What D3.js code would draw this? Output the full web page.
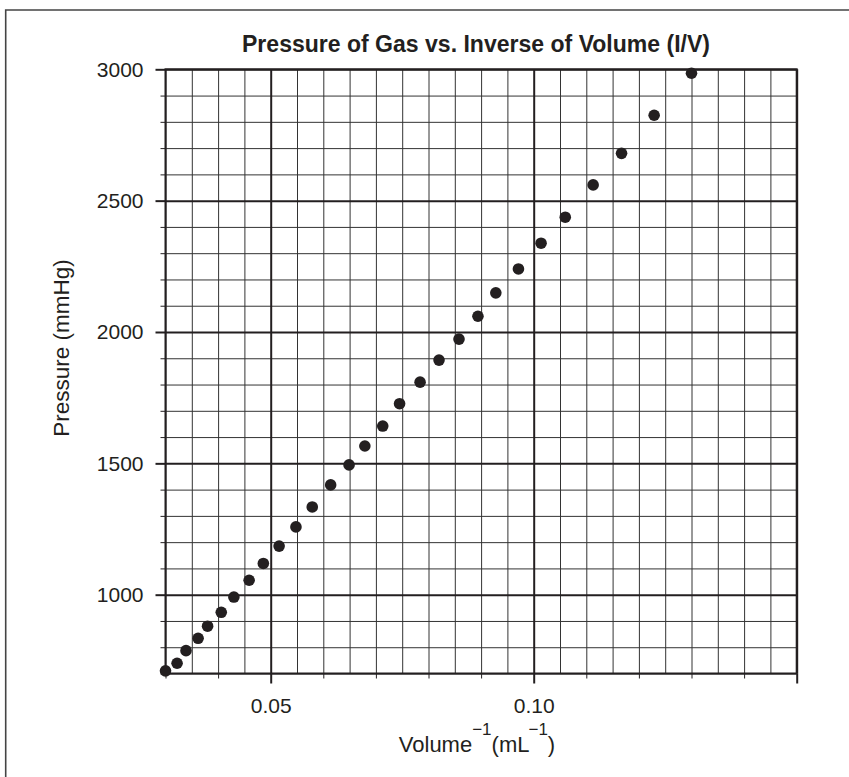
<!DOCTYPE html>
<html><head><meta charset="utf-8">
<script src="https://cdn.jsdelivr.net/npm/d3@7"></script>
<style>body{margin:0;background:#fff} svg{display:block}</style>
</head><body><svg id="chart" width="849" height="777"></svg>
<script>
// ---- data ----
const invVolume = [0.0300,0.0322,0.0339,0.0362,0.0380,0.0406,0.0430,0.0459,0.0486,0.0516,0.0548,0.0579,0.0614,0.0649,0.0679,0.0713,0.0745,0.0784,0.0820,0.0858,0.0894,0.0928,0.0971,0.1014,0.1060,0.1113,0.1167,0.1229,0.1300];
const pressure  = [710,739,787,834,880,933,991,1055,1119,1185,1258,1334,1418,1494,1566,1642,1727,1809,1893,1973,2060,2149,2240,2338,2437,2560,2680,2825,2985];
const xLabelTicks = [0.05, 0.10];
const yLabelTicks = [1000, 1500, 2000, 2500, 3000];
const xDomain = [0.03, 0.15];
const yDomain = [700, 3000];
const titleText = "Pressure of Gas vs. Inverse of Volume (I/V)";
const yAxisTitle = "Pressure (mmHg)";

// ---- layout ----
const svg = d3.select("#chart");
const L = 165.5, R = 796.7, T = 69.3, B = 673.5;
const ink = "#231f20";
const font = "'Liberation Sans', Arial, Helvetica, sans-serif";

const x = d3.scaleLinear().domain(xDomain).range([L, R]);
const y = d3.scaleLinear().domain(yDomain).range([B, T]);

const r6 = v => Math.round(v * 1e6) / 1e6;
const xMinor = d3.range(0, 25).map(i => r6(xDomain[0] + i * 0.005));
const xTick01 = d3.range(0, 13).map(i => r6(xDomain[0] + i * 0.01));
const yMinor = d3.range(yDomain[0], yDomain[1] + 1, 100);
const isMajX = v => Math.abs(Math.round(v / 0.05) * 0.05 - v) < 1e-9;
const isMajY = v => v % 500 === 0;

// outer frame (left & top edges)
svg.append("path").attr("d", "M5.7,777 V10 H849")
  .attr("fill", "none").attr("stroke", "#444").attr("stroke-width", 1.6);

// minor grid
const gx = svg.append("g").attr("transform", `translate(0,${B})`)
  .call(d3.axisBottom(x).tickValues(xMinor.filter(v => !isMajX(v))).tickSize(-(B - T)).tickFormat(""));
const gy = svg.append("g").attr("transform", `translate(${L},0)`)
  .call(d3.axisLeft(y).tickValues(yMinor.filter(v => !isMajY(v))).tickSize(-(R - L)).tickFormat(""));
[gx, gy].forEach(g => { g.select(".domain").remove(); g.selectAll("line").attr("stroke", "#333").attr("stroke-width", 1); });

// major grid
const gxM = svg.append("g").attr("transform", `translate(0,${B})`)
  .call(d3.axisBottom(x).tickValues(xMinor.filter(isMajX)).tickSize(-(B - T)).tickFormat(""));
const gyM = svg.append("g").attr("transform", `translate(${L},0)`)
  .call(d3.axisLeft(y).tickValues(yMinor.filter(isMajY)).tickSize(-(R - L)).tickFormat(""));
[gxM, gyM].forEach(g => { g.select(".domain").remove(); g.selectAll("line").attr("stroke", ink).attr("stroke-width", 2); });

// outside ticks: short minor
const tx = svg.append("g").attr("transform", `translate(0,${B})`)
  .call(d3.axisBottom(x).tickValues(xTick01.filter(v => !isMajX(v))).tickSize(5).tickFormat(""));
const ty = svg.append("g").attr("transform", `translate(${L},0)`)
  .call(d3.axisLeft(y).tickValues(yMinor.filter(v => !isMajY(v))).tickSize(5).tickFormat(""));
[tx, ty].forEach(g => { g.select(".domain").remove(); g.selectAll("line").attr("stroke", ink).attr("stroke-width", 1); });

// outside ticks: long major with labels
const txM = svg.append("g").attr("transform", `translate(0,${B})`)
  .call(d3.axisBottom(x).tickValues(xTick01.filter(isMajX)).tickSize(10).tickPadding(15)
    .tickFormat(v => xLabelTicks.some(t => Math.abs(t - v) < 1e-9) ? d3.format(".2f")(v) : ""));
const tyM = svg.append("g").attr("transform", `translate(${L},0)`)
  .call(d3.axisLeft(y).tickValues(yLabelTicks).tickSize(10).tickPadding(12).tickFormat(d3.format("d")));
[txM, tyM].forEach(g => {
  g.select(".domain").remove();
  g.selectAll("line").attr("stroke", ink).attr("stroke-width", 2);
  g.selectAll("text").attr("fill", ink).style("font-family", font).style("font-size", "21px");
});

// plot border
svg.append("rect").attr("x", L).attr("y", T).attr("width", R - L).attr("height", B - T)
  .attr("fill", "none").attr("stroke", ink).attr("stroke-width", 2);

// points
svg.append("g").selectAll("circle").data(invVolume.map((v, i) => [v, pressure[i]])).join("circle")
  .attr("cx", d => x(d[0])).attr("cy", d => y(d[1])).attr("r", 5.8).attr("fill", ink);

// title
svg.append("text").attr("x", 476).attr("y", 51.7).attr("text-anchor", "middle")
  .attr("textLength", 468).attr("lengthAdjust", "spacingAndGlyphs")
  .style("font-family", "'Liberation Sans Narrow', 'Arial Narrow', 'Liberation Sans', Arial, sans-serif")
  .style("font-weight", "bold").style("font-size", "23.5px").attr("fill", ink).text(titleText);

// y axis title
svg.append("text").attr("transform", "translate(69,348) rotate(-90)").attr("text-anchor", "middle")
  .style("font-family", font).style("font-size", "22.5px").attr("fill", ink).text(yAxisTitle);

// x axis title with superscripts
const xt = svg.append("text").attr("x", 477).attr("y", 751.7).attr("text-anchor", "middle")
  .style("font-family", font).style("font-size", "22px").attr("fill", ink);
xt.append("tspan").text("Volume");
xt.append("tspan").attr("dy", -17).style("font-size", "17px").text("\u22121");
xt.append("tspan").attr("dy", 17).text("(mL");
xt.append("tspan").attr("dy", -17).attr("dx", -1).style("font-size", "17px").text("\u22121");
xt.append("tspan").attr("dy", 17).text(")");
</script></body></html>
